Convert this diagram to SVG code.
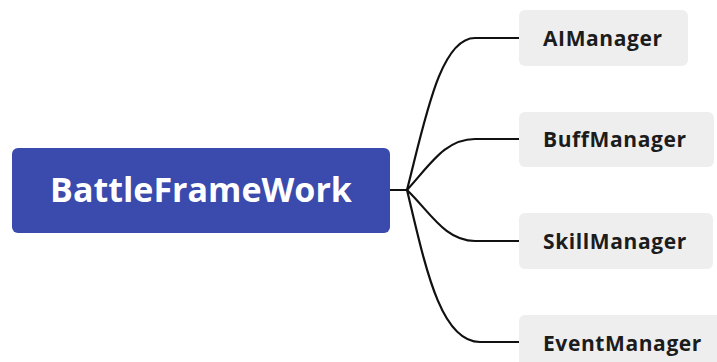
<svg xmlns="http://www.w3.org/2000/svg" width="717" height="362" viewBox="0 0 717 362">
<style>
.root{fill:#3a4aad}
.child{fill:#eeeeee}
.rt{font-family:"Open Sans","Noto Sans",sans-serif;font-weight:700;font-size:34px;fill:#ffffff}
.ct{font-family:"Open Sans","Noto Sans",sans-serif;font-weight:700;font-size:21px;letter-spacing:0.6px;fill:#1c1c1c}
.conn{fill:none;stroke:#111111;stroke-width:2.2;stroke-linecap:round}
</style>
<rect width="717" height="362" fill="#ffffff"/>
<g id="connectors">
<path class="conn" d="M390,190 H407"/>
<path class="conn" d="M407,190 C425,120 440,38 475,38 H519"/>
<path class="conn" d="M407,190 C430,165 445,139 475,139 H519"/>
<path class="conn" d="M407,190 C430,212 445,241 475,241 H519"/>
<path class="conn" d="M407,190 C425,265 440,342 480,342 H519"/>
</g>
<g id="node-root">
<rect class="root" x="12" y="148" width="378" height="85" rx="6"/>
<text class="rt" x="201" y="202" text-anchor="middle">BattleFrameWork</text>
</g>
<g id="node-ai">
<rect class="child" x="519" y="10" width="169" height="56" rx="6"/>
<text class="ct" x="543" y="45.5">AIManager</text>
</g>
<g id="node-buff">
<rect class="child" x="519" y="112" width="195" height="55" rx="6"/>
<text class="ct" x="543" y="146.5">BuffManager</text>
</g>
<g id="node-skill">
<rect class="child" x="519" y="213" width="194" height="56" rx="6"/>
<text class="ct" x="543" y="248.5">SkillManager</text>
</g>
<g id="node-event">
<rect class="child" x="519" y="315" width="210" height="56" rx="6"/>
<text class="ct" x="543" y="350.5">EventManager</text>
</g>
</svg>
